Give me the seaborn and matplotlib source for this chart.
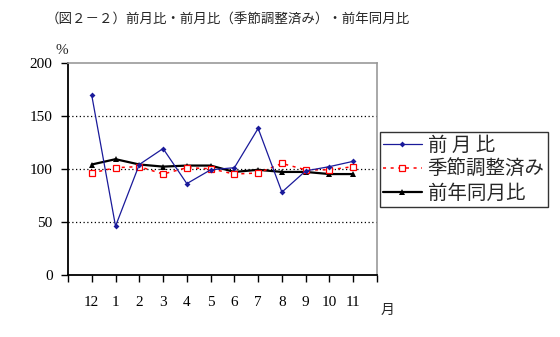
import matplotlib
matplotlib.use("Agg")
import matplotlib.pyplot as plt
from matplotlib.lines import Line2D
import seaborn as sns
import pandas as pd

# Monthly ratios (%)
months = ["12", "1", "2", "3", "4", "5", "6", "7", "8", "9", "10", "11"]
mom = [169, 46, 104, 119, 86, 99, 101, 138, 78, 98, 102, 107]          # 前月比
mom_sa = [96, 101, 102, 95, 101, 100, 95, 96, 105, 99, 99, 102]        # 前月比（季節調整済み）
yoy = [104, 109, 104, 102, 103, 103, 97, 99, 97, 97, 95, 95]           # 前年同月比
y_ticks = [0, 50, 100, 150, 200]
grid_levels = [50, 100, 150]
series_names = ["前 月 比", "季節調整済み", "前年同月比"]
title_text = "（図２－２）前月比・前月比（季節調整済み）・前年同月比"

sns.set_theme(style="white")
plt.rcParams["font.family"] = ["Noto Sans CJK JP", "DejaVu Sans"]

pos = list(range(1, len(months) + 1))
df = pd.DataFrame({"pos": pos, "mom": mom, "mom_sa": mom_sa, "yoy": yoy})

fig = plt.figure(figsize=(5.6, 3.37), dpi=100)
ax = fig.add_axes([68 / 560, 1 - 275 / 337, 309 / 560, 212.5 / 337])

for lvl in grid_levels:
    ax.axhline(lvl, color="black", lw=0.9, ls=(0, (1, 2)), zorder=1)

sns.lineplot(data=df, x="pos", y="yoy", ax=ax, color="black", lw=1.6,
             marker="^", markersize=4, markeredgewidth=0, sort=False, zorder=3)
sns.lineplot(data=df, x="pos", y="mom_sa", ax=ax, color="red", lw=1.1,
             ls=(0, (2, 3)), marker="s", markersize=4, markerfacecolor="white",
             markeredgecolor="red", markeredgewidth=0.9, sort=False, zorder=4)
sns.lineplot(data=df, x="pos", y="mom", ax=ax, color="#1a1a9a", lw=0.9,
             marker="D", markersize=3, markeredgewidth=0, sort=False, zorder=5)

ax.set_xlim(0, len(months) + 1)
ax.set_ylim(y_ticks[0], y_ticks[-1])
ax.set_xticks(range(0, len(months) + 2))
ax.set_xticklabels([""] + months + [""])
ax.set_yticks(y_ticks)
ax.set_yticklabels([str(v) for v in y_ticks])
ax.set_xlabel("")
ax.set_ylabel("")

for lab in ax.get_xticklabels() + ax.get_yticklabels():
    lab.set_fontfamily(["Liberation Serif", "DejaVu Serif"])
    lab.set_fontsize(11)
    lab.set_color("black")

ax.tick_params(axis="x", direction="out", length=5, width=1, pad=10, colors="black", bottom=True)
ax.tick_params(axis="y", direction="out", length=5, width=1, pad=6, colors="black", left=True)

for side in ["left", "bottom"]:
    ax.spines[side].set_color("black")
    ax.spines[side].set_linewidth(1.3)
for side in ["top", "right"]:
    ax.spines[side].set_color("#999999")
    ax.spines[side].set_linewidth(1.2)

handles = [
    Line2D([], [], color="#1a1a9a", lw=0.9, marker="D", markersize=3, markeredgewidth=0),
    Line2D([], [], color="red", lw=1.1, ls=(0, (2, 3)), marker="s", markersize=4,
           markerfacecolor="white", markeredgecolor="red", markeredgewidth=0.9),
    Line2D([], [], color="black", lw=1.6, marker="^", markersize=4, markeredgewidth=0),
]
leg = fig.legend(handles, series_names, loc="upper left",
                 bbox_to_anchor=(380 / 560, 1 - 132 / 337),
                 prop={"family": ["Noto Sans CJK JP"], "size": 14},
                 frameon=True, fancybox=False, edgecolor="black",
                 handlelength=2.0, handletextpad=0.3, labelspacing=0.15,
                 borderpad=0.15, borderaxespad=0)
leg.get_frame().set_linewidth(1.0)

fig.text(46 / 560, 1 - 20 / 337, title_text, fontsize=9.7, ha="left", va="center",
         family=["Noto Sans CJK JP", "DejaVu Sans"])
fig.text(56 / 560, 1 - 50 / 337, "%", fontsize=11, ha="left", va="center",
         family=["Liberation Serif"])
fig.text(388 / 560, 1 - 310 / 337, "月", fontsize=10, ha="center", va="center",
         family=["Noto Sans CJK JP"])

fig.savefig("out.png", dpi=100, facecolor="white")
